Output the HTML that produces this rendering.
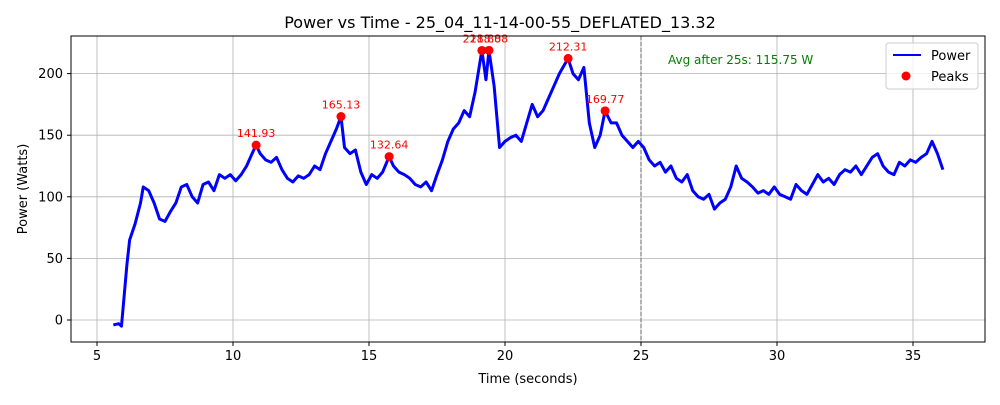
<!DOCTYPE html>
<html><head><meta charset="utf-8"><style>
body{margin:0;background:#fff;font-family:"Liberation Sans","DejaVu Sans",sans-serif}
svg text{font-family:"DejaVu Sans","Liberation Sans",sans-serif}
</style></head><body>
<svg id="c" width="1000" height="400" xmlns="http://www.w3.org/2000/svg"></svg>
<script>
const times=[5.6,5.8,5.9,6.0,6.1,6.2,6.4,6.6,6.7,6.9,7.1,7.3,7.5,7.7,7.9,8.1,8.3,8.5,8.7,8.9,9.1,9.3,9.5,9.7,9.9,10.1,10.3,10.5,10.7,10.85,11.0,11.2,11.4,11.6,11.8,12.0,12.2,12.4,12.6,12.8,13.0,13.2,13.4,13.6,13.8,13.97,14.1,14.3,14.5,14.7,14.9,15.1,15.3,15.5,15.74,15.9,16.1,16.3,16.5,16.7,16.9,17.1,17.3,17.5,17.7,17.9,18.1,18.3,18.5,18.7,18.9,19.15,19.3,19.41,19.6,19.8,20.0,20.2,20.4,20.6,20.8,21.0,21.2,21.4,21.6,21.8,22.0,22.32,22.5,22.7,22.9,23.1,23.3,23.5,23.68,23.9,24.1,24.3,24.5,24.7,24.9,25.1,25.3,25.5,25.7,25.9,26.1,26.3,26.5,26.7,26.9,27.1,27.3,27.5,27.7,27.9,28.1,28.3,28.5,28.7,28.9,29.1,29.3,29.5,29.7,29.9,30.1,30.3,30.5,30.7,30.9,31.1,31.3,31.5,31.7,31.9,32.1,32.3,32.5,32.7,32.9,33.1,33.3,33.5,33.7,33.9,34.1,34.3,34.5,34.7,34.9,35.1,35.3,35.5,35.7,35.9,36.1];
const power=[-4,-3,-5,20,45,65,78,95,108,105,95,82,80,88,95,108,110,100,95,110,112,105,118,115,118,113,118,125,135,141.93,135,130,128,132,122,115,112,117,115,118,125,122,135,145,155,165.13,140,135,138,120,110,118,115,120,132.64,125,120,118,115,110,108,112,105,118,130,145,155,160,170,165,185,218.8,195,218.88,190,140,145,148,150,145,160,175,165,170,180,190,200,212.31,200,195,205,160,140,150,169.77,160,160,150,145,140,145,140,130,125,128,120,125,115,112,118,105,100,98,102,90,95,98,108,125,115,112,108,103,105,102,108,102,100,98,110,105,102,110,118,112,115,110,118,122,120,125,118,125,132,135,125,120,118,128,125,130,128,132,135,145,135,122];
const peakT=[10.85,13.97,15.74,19.15,19.41,22.32,23.68];
const peakV=[141.93,165.13,132.64,218.8,218.88,212.31,169.77];
const peakLabels=["141.93","165.13","132.64","218.80","218.88","212.31","169.77"];
const xTicks=[5,10,15,20,25,30,35];
const yTicks=[0,50,100,150,200];
const avgText="Avg after 25s: 115.75 W";

const NS="http://www.w3.org/2000/svg",svg=document.getElementById('c');
const L=71,R=985,T=36,B=342;
const X=t=>97+(t-5)*27.2;
const Y=v=>320-v*1.232;
function el(tag,a,txt){const e=document.createElementNS(NS,tag);for(const k in a)e.setAttribute(k,a[k]);if(txt!==undefined)e.textContent=txt;svg.appendChild(e);return e;}
xTicks.forEach(t=>{
 const g=el('line',{x1:X(t),x2:X(t),y1:T,y2:B,stroke:'#b0b0b0','stroke-width':0.8});
 
 el('line',{x1:X(t),x2:X(t),y1:B,y2:B+4,stroke:'#000'});
 const tx=el('text',{x:X(t),y:B+18,'font-size':13,'text-anchor':'middle'},t);
 
});
yTicks.forEach(v=>{
 const g=el('line',{x1:L,x2:R,y1:Y(v),y2:Y(v),stroke:'#b0b0b0','stroke-width':0.8});
 
 el('line',{x1:L-4,x2:L,y1:Y(v),y2:Y(v),stroke:'#000'});
 const tx=el('text',{x:L-8,y:Y(v)+4.5,'font-size':13,'text-anchor':'end'},v);
 
});
const vl=el('line',{x1:X(25),x2:X(25),y1:T,y2:B,stroke:'#808080','stroke-dasharray':'4,2','stroke-width':1.2});

const line=el('polyline',{points:times.map((t,i)=>X(t)+','+Y(power[i])).join(' '),fill:'none',stroke:'#0000ff','stroke-width':3,'stroke-linejoin':'round'});

peakT.forEach((t,i)=>{
 const c=el('circle',{cx:X(t),cy:Y(peakV[i]),r:4.5,fill:'#ff0000'});
 
 const tx=el('text',{x:X(t),y:Y(peakV[i])-8,'font-size':11,fill:'#ff0000','text-anchor':'middle'},peakLabels[i]);
 
});
const fr=el('rect',{x:L,y:T,width:R-L,height:B-T,fill:'none',stroke:'#000','stroke-width':1});

const av=el('text',{x:668,y:64,'font-size':12,fill:'#008000'},avgText);

const ti=el('text',{x:500,y:28,'font-size':16,'text-anchor':'middle'},'Power vs Time - 25_04_11-14-00-55_DEFLATED_13.32');

const xl=el('text',{x:528,y:383,'font-size':13,'text-anchor':'middle'},'Time (seconds)');

const yl=el('text',{x:27,y:189,'font-size':13,'text-anchor':'middle',transform:'rotate(-90 27 189)'},'Power (Watts)');

const lg=el('rect',{x:886,y:43,width:92,height:46,fill:'#fff','fill-opacity':0.8,stroke:'#ccc',rx:3});

el('line',{x1:893,x2:921,y1:55,y2:55,stroke:'#0000ff','stroke-width':2});
const l1=el('text',{x:931,y:60,'font-size':13},'Power');

el('circle',{cx:906,cy:76,r:4.5,fill:'#ff0000'});
const l2=el('text',{x:931,y:81,'font-size':13},'Peaks');

</script>
</body></html>
